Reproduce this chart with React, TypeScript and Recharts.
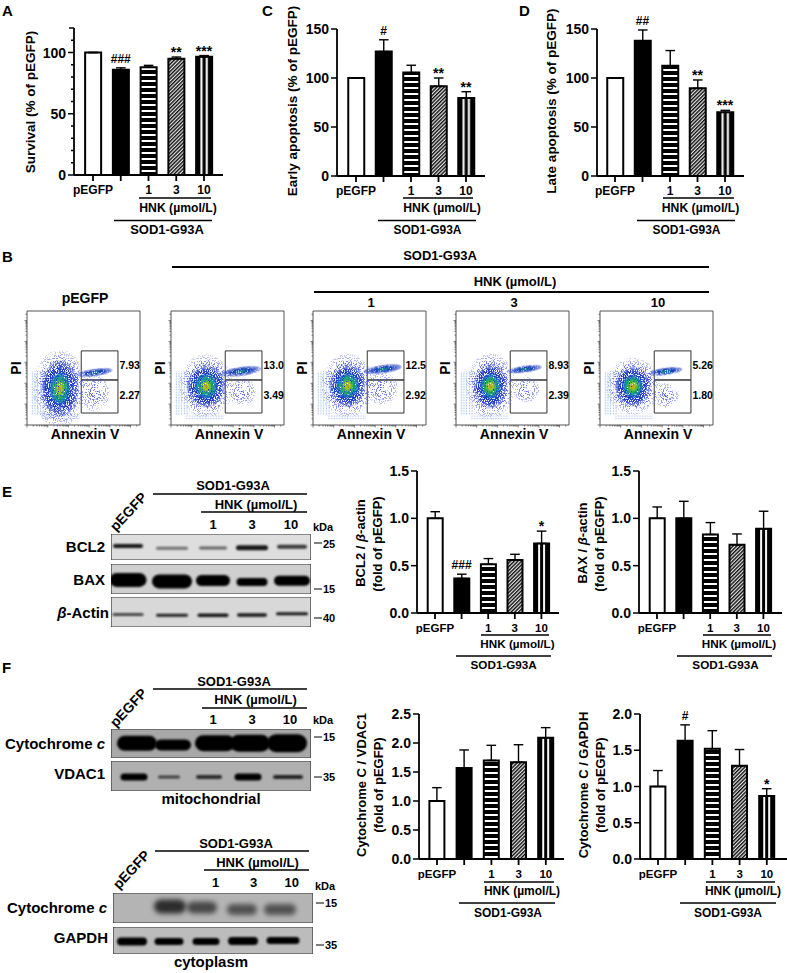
import React from 'react';
import {
  ComposedChart, Bar, Line, Cell, XAxis, YAxis, ErrorBar, LabelList,
  ScatterChart, Scatter, ReferenceArea,
} from 'recharts';

const FONT = '"Liberation Sans", Arial, sans-serif';

// bar panels
const doseLabels = ['pEGFP', '', '1', '3', '10'];
const barFills = ['#fff', '#000', 'url(#hstripe)', 'url(#hatch)', 'url(#vstripe)'];

const survival = [100, 86, 88, 95, 96.5];
const survivalErr = [0, 1.5, 1.5, 1.3, 1];
const survivalSig = ['', '###', '', '**', '***'];

const early = [100, 127, 105.5, 91.5, 79.5];
const earlyErr = [0, 12, 7.5, 8.5, 6.5];
const earlySig = ['', '#', '', '**', '**'];

const late = [100, 138, 112.5, 89.5, 65];
const lateErr = [0, 11, 15.5, 8.5, 2];
const lateSig = ['', '##', '', '**', '***'];

const bcl2 = [1, 0.365, 0.515, 0.56, 0.735];
const bcl2Err = [0.07, 0.045, 0.06, 0.06, 0.13];
const bcl2Sig = ['', '###', '', '', '*'];

const bax = [1, 1, 0.83, 0.72, 0.89];
const baxErr = [0.12, 0.18, 0.125, 0.115, 0.185];
const noSig = ['', '', '', '', ''];

const cytoVdac = [1, 1.57, 1.7, 1.67, 2.09];
const cytoVdacErr = [0.23, 0.31, 0.26, 0.3, 0.175];

const cytoGapdh = [1, 1.63, 1.52, 1.285, 0.87];
const cytoGapdhErr = [0.22, 0.22, 0.25, 0.225, 0.1];
const cytoGapdhSig = ['', '#', '', '', '*'];

const ticks150 = [0, 50, 100, 150];
const ticks120 = [0, 10, 20, 30, 40, 50, 60, 70, 80, 90, 100, 110, 120];
const ticks15 = [0, 0.5, 1, 1.5];
const ticks25 = [0, 0.5, 1, 1.5, 2, 2.5];
const ticks20 = [0, 0.5, 1, 1.5, 2];

// flow plots, % of the plot frame
const flowLateVals = ['7.93', '13.0', '12.5', '8.93', '5.26'];
const flowEarlyVals = ['2.27', '3.49', '2.92', '2.39', '1.80'];
const flowTitles = ['pEGFP', '', '1', '3', '10'];
const coreX = [29, 31, 30.5, 30.5, 29];
const coreY = [32, 34, 34.5, 34, 34];
const coreRx = [10, 11, 11, 10, 10];
const coreRy = [16, 12, 12, 12, 11];
const midRx = [17, 17, 16, 15, 16];
const midRy = [25, 19, 19, 20, 18];
const haloRx = [24, 24, 24, 22, 24];
const haloRy = [34, 28, 28, 29, 25];
const streakX = [60, 62, 62, 61, 58];
const streakY = [46, 47, 49, 49, 47];
const streakRx = [16, 18, 17, 15, 15];
const streakRy = [3.4, 4.2, 3.8, 3.2, 3.4];
const lowX = [60, 63, 61, 62, 59];
const lowY = [28, 29, 32, 31, 26];
const lowRx = [13, 12, 14, 12, 11];
const lowRy = [16, 12, 14, 11, 11];
const flowMajor = [0, 18.3, 36.6, 55, 73.3, 91.6];
const flowMinor = [5.5, 8.8, 11, 12.8, 14.2, 15.5, 16.5, 17.4, 23.8, 27.1, 29.3, 31.1, 32.5, 33.8, 34.8, 35.7, 42.1, 45.4, 47.6, 49.4, 50.8, 52.1, 53.1, 54, 60.5, 63.8, 66, 67.8, 69.2, 70.5, 71.5, 72.4, 78.8, 82.1, 84.3, 86.1, 87.5, 88.8, 89.8, 90.7, 97.1];

// blot bands: offset along the membrane, height on the membrane, darkness
const bcl2X = [17, 61, 102, 141, 181];
const bcl2Y = [54, 45, 46, 47, 51];
const bcl2Dark = [0.9, 0.5, 0.55, 0.9, 0.75];
const bcl2W = [30, 32, 28, 32, 30];
const bcl2T = [4, 3, 3, 5, 4];

const baxX = [17, 61, 102, 141, 181];
const baxY = [47, 42, 45, 40, 44];
const baxDark = [1, 1, 1, 1, 1];
const baxW = [37, 40, 34, 31, 36];
const baxT = [14, 14, 11, 8, 10];

const actinX = [17, 61, 102, 141, 181];
const actinY = [42, 39, 39, 40, 44];
const actinDark = [0.8, 0.85, 0.9, 0.9, 0.9];
const actinW = [31, 32, 31, 30, 32];
const actinT = [2.5, 3, 3.5, 3.5, 3];

const mitoX = [26, 62, 104, 139, 176];
const mitoY = [51, 45, 51, 51, 51];
const mitoDark = [1, 1, 1, 1, 1];
const mitoW = [40, 36, 40, 40, 40];
const mitoT = [15, 11, 16, 17, 18];

const vdacX = [23, 58, 98, 137, 177];
const vdacY = [47, 47, 47, 47, 47];
const vdacDark = [1, 0.65, 0.75, 1, 0.8];
const vdacW = [27, 22, 26, 27, 30];
const vdacT = [7, 3, 4, 7, 4];

const plasmX = [57, 89, 129, 167];
const plasmY = [55, 52, 45, 45];
const plasmDark = [0.75, 0.6, 0.55, 0.55];
const plasmW = [32, 30, 30, 32];
const plasmT = [14, 12, 11, 11];

const gapdhX = [19, 56, 93, 130, 170];
const gapdhY = [46, 46, 46, 48, 50];
const gapdhDark = [1, 1, 1, 1, 1];
const gapdhW = [30, 29, 27, 30, 33];
const gapdhT = [8, 7, 7, 8, 7];

function SigLabel(props: any) {
  const { value } = props;
  if (!value) return null;
  const box = props.viewBox ?? props;
  const x = props.x ?? box.x;
  const y = props.y ?? box.y;
  const isHash = value[0] === '#';
  return (
    <text x={x} y={y - (isHash ? 5 : 0)} textAnchor="middle" fontFamily={FONT}
      fontSize={isHash ? 12 : 14} fontWeight={700} fill="#000">
      {value}
    </text>
  );
}

function BarPanel({ axisX, xEnd, top, bottom, firstC, step, max, ticks, majors, values, errs, sigs, digits, barSize, fontSize }: any) {
  const data = doseLabels.map((label, i) => ({
    label,
    value: values[i],
    err: [0, errs[i]],
    top: values[i] + errs[i],
    sig: sigs[i],
  }));
  const yW = 60;
  const mt = 22;
  const padL = firstC - step / 2 - axisX;
  const padR = xEnd - (firstC + step * 4.5);
  const plotH = bottom - top;
  return (
    <div style={{ position: 'absolute', left: axisX - yW, top: top - mt }}>
      <ComposedChart width={yW + xEnd - axisX} height={mt + plotH + 32} data={data}
        margin={{ top: mt, right: 0, bottom: 0, left: 0 }}>
        <XAxis dataKey="label" interval={0} height={32} padding={{ left: padL, right: padR }}
          axisLine={{ stroke: '#000', strokeWidth: 1.8 }}
          tickLine={{ stroke: '#000', strokeWidth: 1.8 }} tickSize={6} tickMargin={4.5}
          tick={{ fill: '#000', fontSize, fontWeight: 700, fontFamily: FONT }} />
        <YAxis type="number" domain={[0, max]} ticks={ticks} width={yW} interval={0}
          axisLine={{ stroke: '#000', strokeWidth: 1.8 }} tickLine={false} tickSize={0} tickMargin={0}
          tick={(p: any) => {
            const v = p.payload.value;
            const major = majors.includes(v);
            const len = major ? 6 : v === 120 ? 5 : 3;
            return (
              <g>
                <line x1={p.x} x2={p.x - len} y1={p.y} y2={p.y} stroke="#000" strokeWidth={1.5} />
                {major && (
                  <text x={p.x - 8} y={p.y} dy="0.36em" textAnchor="end" fontFamily={FONT} fontSize={14} fontWeight={700} fill="#000">
                    {v.toFixed(digits)}
                  </text>
                )}
              </g>
            );
          }} />
        <Bar dataKey="value" barSize={barSize} stroke="#000" strokeWidth={2} isAnimationActive={false}>
          {data.map((d, i) => <Cell key={d.label + i} fill={barFills[i]} />)}
          <ErrorBar dataKey="err" direction="y" width={4.8} stroke="#000" strokeWidth={1.4} isAnimationActive={false} />
        </Bar>
        <Line dataKey="top" stroke="none" dot={false} activeDot={false} legendType="none" isAnimationActive={false}>
          <LabelList dataKey="sig" content={SigLabel} />
        </Line>
      </ComposedChart>
    </div>
  );
}

function FlowPanel({ idx, left }: { idx: number; left: number }) {
  const frameTop = 311;
  const w = 113;
  const h = 114;
  const pad = 6;
  const one = (x: number, y: number, rx: number, ry: number) => [{ x, y, rx, ry }];
  const shapeOf = (fill: string, filter: string, tilt = 0) => (p: any) => {
    const rx = (p.payload.rx * w) / 100;
    const ry = (p.payload.ry * h) / 100;
    return (
      <ellipse cx={p.cx} cy={p.cy} rx={rx} ry={ry} fill={fill} filter={filter}
        transform={tilt ? `rotate(${tilt} ${p.cx} ${p.cy})` : undefined} />
    );
  };
  const rectShape = (fill: string) => (p: any) => {
    const rx = (p.payload.rx * w) / 100;
    const ry = (p.payload.ry * h) / 100;
    return <rect x={p.cx - rx} y={p.cy - ry} width={rx * 2} height={ry * 2} fill={fill} />;
  };
  const axisTick = (horizontal: boolean) => (p: any) => {
    const len = flowMajor.includes(p.payload.value) ? 2.5 : 1.5;
    return horizontal
      ? <line x1={p.x} x2={p.x} y1={p.y} y2={p.y + len} stroke="#444" strokeWidth={0.7} />
      : <line x1={p.x} x2={p.x - len} y1={p.y} y2={p.y} stroke="#444" strokeWidth={0.7} />;
  };
  const allTicks = [...flowMajor, ...flowMinor];
  return (
    <div style={{ position: 'absolute', left: left - pad, top: frameTop - 2 }}>
      <ScatterChart width={w + pad + 2} height={h + pad + 2} margin={{ top: 2, right: 2, bottom: 0, left: 0 }}>
        <XAxis type="number" dataKey="x" domain={[0, 100]} ticks={allTicks} interval={0} height={pad}
          axisLine={false} tickLine={false} tickSize={0} tickMargin={0} tick={axisTick(true)} />
        <YAxis type="number" dataKey="y" domain={[0, 100]} ticks={allTicks} interval={0} width={pad}
          axisLine={false} tickLine={false} tickSize={0} tickMargin={0} tick={axisTick(false)} />
        <Scatter data={one(9, 28, 6, 19)} shape={rectShape('url(#dotcols)')} isAnimationActive={false} />
        <Scatter data={one(30, 7, 17, 3)} shape={rectShape('url(#dotrows)')} isAnimationActive={false} />
        <Scatter data={one(coreX[idx], coreY[idx], haloRx[idx], haloRy[idx])} shape={shapeOf('url(#halo)', 'url(#sparse)')} isAnimationActive={false} />
        <Scatter data={one(coreX[idx], coreY[idx], midRx[idx], midRy[idx])} shape={shapeOf('url(#mid)', 'url(#speckle)')} isAnimationActive={false} />
        <Scatter data={one(coreX[idx], coreY[idx], coreRx[idx], coreRy[idx])} shape={shapeOf('url(#core)', 'url(#grain)')} isAnimationActive={false} />
        <Scatter data={one(lowX[idx], lowY[idx], lowRx[idx], lowRy[idx])} shape={shapeOf('url(#low)', 'url(#sparse)')} isAnimationActive={false} />
        <Scatter data={one(streakX[idx], streakY[idx], streakRx[idx], streakRy[idx])} shape={shapeOf('url(#streak)', 'url(#grain)', -8)} isAnimationActive={false} />
        <ReferenceArea x1={48} x2={80.5} y1={39.5} y2={65} fill="none" stroke="#333" strokeWidth={1} />
        <ReferenceArea x1={48} x2={80.5} y1={10.5} y2={39.5} fill="none" stroke="#333" strokeWidth={1} />
        <ReferenceArea x1={0} x2={100} y1={0} y2={100} fill="none" stroke="#555" strokeWidth={1} />
      </ScatterChart>
    </div>
  );
}

function Blot({ left, top, width, height, bg, xs, ys, darks, ws, ts, blur }: any) {
  const data = xs.map((x: number, i: number) => ({ x, y: ys[i], dark: darks[i], w: ws[i], t: ts[i] }));
  return (
    <div style={{ position: 'absolute', left, top }}>
      <ScatterChart width={width} height={height} margin={{ top: 0, right: 0, bottom: 0, left: 0 }}>
        <XAxis type="number" dataKey="x" domain={[0, width]} hide />
        <YAxis type="number" dataKey="y" domain={[0, 100]} hide />
        <ReferenceArea x1={0} x2={width} y1={0} y2={100} fill={bg} fillOpacity={1} stroke="#333" strokeWidth={1.2} />
        <Scatter data={data} isAnimationActive={false}
          shape={(p: any) => (
            <rect x={p.cx - p.payload.w / 2} y={p.cy - p.payload.t / 2} width={p.payload.w} height={p.payload.t}
              rx={p.payload.t / 2} fill="#050505" opacity={p.payload.dark} filter={`url(#${blur})`} />
          )} />
      </ScatterChart>
    </div>
  );
}

function T({ x, y, size = 12, anchor = 'middle', rot, weight = 700, children }: any) {
  return (
    <text x={x} y={y} fontSize={size} textAnchor={anchor} fontWeight={weight} fontFamily={FONT} fill="#000"
      transform={rot != null ? `rotate(${rot} ${x} ${y})` : undefined}>
      {children}
    </text>
  );
}

function Rule({ x1, x2, y, w = 1.5 }: any) {
  return <line x1={x1} x2={x2} y1={y} y2={y} stroke="#000" strokeWidth={w} />;
}

// the two bracket rows under a bar panel
function Brackets({ hx1, hx2, hy, htx, hby, sx1, sx2, sy, stx, sby, size = 12.2, sodSize = 12 }: any) {
  return (
    <g>
      <Rule x1={hx1} x2={hx2} y={hy} />
      <T x={htx} y={hby} size={size}>HNK (µmol/L)</T>
      <Rule x1={sx1} x2={sx2} y={sy} />
      <T x={stx} y={sby} size={sodSize}>SOD1-G93A</T>
    </g>
  );
}

// header of a blot: pEGFP, brackets, lane doses, kDa
function BlotHead({ px, py, sodX, sodY, sodLineY, sx1, sx2, hnkX, hnkY, hnkLineY, hx1, laneY, lanes, kdaY }: any) {
  return (
    <g>
      <T x={px} y={py} size={14} anchor="start" rot={-47}>pEGFP</T>
      <T x={sodX} y={sodY} size={13}>SOD1-G93A</T>
      <Rule x1={sx1} x2={sx2} y={sodLineY} />
      <T x={hnkX} y={hnkY} size={13}>HNK (µmol/L)</T>
      <Rule x1={hx1} x2={sx2} y={hnkLineY} />
      {['1', '3', '10'].map((d, i) => <T key={d} x={lanes[i]} y={laneY} size={13}>{d}</T>)}
      <T x={sx2 + 6} y={kdaY} size={11} anchor="start">kDa</T>
    </g>
  );
}

function Marker({ x, y, by, label }: any) {
  return (
    <g>
      <line x1={x} x2={x + 8} y1={y} y2={y} stroke="#000" strokeWidth={1} />
      <T x={x + 9} y={by} size={11} anchor="start">{label}</T>
    </g>
  );
}

const flowLefts = [27, 171, 313, 456, 600];

export default function App() {
  return (
    <div style={{ position: 'absolute', left: 0, top: 0, width: 787, height: 973, background: '#fff', overflow: 'hidden', fontFamily: FONT }}>
      <svg width={0} height={0} style={{ position: 'absolute' }}>
        <defs>
          <pattern id="hstripe" patternUnits="userSpaceOnUse" width={6} height={6}>
            <rect width={6} height={6} fill="#000" />
            <rect y={2} width={6} height={2} fill="#fff" />
          </pattern>
          <pattern id="hatch" patternUnits="userSpaceOnUse" width={2.6} height={2.6} patternTransform="rotate(45)">
            <rect width={2.6} height={2.6} fill="#e4e4e4" />
            <rect width={1.4} height={2.6} fill="#111" />
          </pattern>
          <pattern id="vstripe" patternUnits="objectBoundingBox" patternContentUnits="objectBoundingBox" width={1} height={1}>
            <rect width={1} height={1} fill="#000" />
            <rect x={0.27} width={0.13} height={1} fill="#fff" />
            <rect x={0.6} width={0.13} height={1} fill="#fff" />
          </pattern>
          <pattern id="dotcols" patternUnits="userSpaceOnUse" width={2.7} height={1.6}>
            <rect width={0.9} height={0.9} fill="#6a9ae0" opacity={0.7} />
          </pattern>
          <pattern id="dotrows" patternUnits="userSpaceOnUse" width={1.6} height={2.6}>
            <rect width={0.9} height={0.9} fill="#8aa4e8" opacity={0.7} />
          </pattern>
          <radialGradient id="halo">
            <stop offset="0" stopColor="#3048d8" stopOpacity={0.95} />
            <stop offset="0.7" stopColor="#4858e0" stopOpacity={0.85} />
            <stop offset="1" stopColor="#7080e8" stopOpacity={0.3} />
          </radialGradient>
          <radialGradient id="mid">
            <stop offset="0" stopColor="#1030c0" />
            <stop offset="0.75" stopColor="#1838c8" stopOpacity={0.95} />
            <stop offset="1" stopColor="#3048d8" stopOpacity={0.3} />
          </radialGradient>
          <radialGradient id="core">
            <stop offset="0" stopColor="#d88a20" />
            <stop offset="0.2" stopColor="#a8c820" />
            <stop offset="0.48" stopColor="#20b060" />
            <stop offset="0.78" stopColor="#1080b8" stopOpacity={0.8} />
            <stop offset="1" stopColor="#2040c8" stopOpacity={0} />
          </radialGradient>
          <radialGradient id="low">
            <stop offset="0" stopColor="#2840d0" stopOpacity={0.95} />
            <stop offset="1" stopColor="#5060e0" stopOpacity={0.35} />
          </radialGradient>
          <radialGradient id="streak">
            <stop offset="0" stopColor="#109878" />
            <stop offset="0.45" stopColor="#1038c0" />
            <stop offset="1" stopColor="#2040c8" stopOpacity={0.4} />
          </radialGradient>
          <filter id="speckle" x="-10%" y="-10%" width="120%" height="120%">
            <feTurbulence type="fractalNoise" baseFrequency="0.95" numOctaves="2" seed="4" result="noise" />
            <feColorMatrix in="noise" type="matrix" values="0 0 0 0 0  0 0 0 0 0  0 0 0 0 0  0 0 0 12 -5.2" result="mask" />
            <feComposite in="SourceGraphic" in2="mask" operator="in" />
          </filter>
          <filter id="sparse" x="-10%" y="-10%" width="120%" height="120%">
            <feTurbulence type="fractalNoise" baseFrequency="1.05" numOctaves="2" seed="9" result="noise" />
            <feColorMatrix in="noise" type="matrix" values="0 0 0 0 0  0 0 0 0 0  0 0 0 0 0  0 0 0 14 -7.6" result="mask" />
            <feComposite in="SourceGraphic" in2="mask" operator="in" />
          </filter>
          <filter id="grain" x="-20%" y="-60%" width="140%" height="220%">
            <feTurbulence type="fractalNoise" baseFrequency="0.9" numOctaves="2" seed="2" result="noise" />
            <feColorMatrix in="noise" type="matrix" values="0 0 0 0 0  0 0 0 0 0  0 0 0 0 0  0 0 0 6 -1.7" result="mask" />
            <feComposite in="SourceGraphic" in2="mask" operator="in" />
          </filter>
          <filter id="blurS" x="-20%" y="-60%" width="140%" height="220%"><feGaussianBlur stdDeviation="0.8" /></filter>
          <filter id="blurL" x="-30%" y="-80%" width="160%" height="260%"><feGaussianBlur stdDeviation="2.4" /></filter>
        </defs>
      </svg>

      <BarPanel axisX={74} xEnd={223} top={28} bottom={175} firstC={93} step={27.75} max={120} ticks={ticks120} majors={[0, 50, 100]}
        values={survival} errs={survivalErr} sigs={survivalSig} digits={0} barSize={16} fontSize={12} />
      <BarPanel axisX={337} xEnd={485} top={29} bottom={176} firstC={356} step={27.5} max={150} ticks={ticks150} majors={ticks150}
        values={early} errs={earlyErr} sigs={earlySig} digits={0} barSize={16} fontSize={12} />
      <BarPanel axisX={597} xEnd={744} top={29} bottom={176} firstC={615} step={27.5} max={150} ticks={ticks150} majors={ticks150}
        values={late} errs={lateErr} sigs={lateSig} digits={0} barSize={16} fontSize={12} />
      <BarPanel axisX={417} xEnd={559} top={471} bottom={613} firstC={435} step={26.6} max={1.5} ticks={ticks15} majors={ticks15}
        values={bcl2} errs={bcl2Err} sigs={bcl2Sig} digits={1} barSize={15} fontSize={11.5} />
      <BarPanel axisX={639} xEnd={782} top={471} bottom={613} firstC={657} step={26.6} max={1.5} ticks={ticks15} majors={ticks15}
        values={bax} errs={baxErr} sigs={noSig} digits={1} barSize={15} fontSize={11.5} />
      <BarPanel axisX={419} xEnd={564} top={714} bottom={859} firstC={437} step={27.2} max={2.5} ticks={ticks25} majors={ticks25}
        values={cytoVdac} errs={cytoVdacErr} sigs={noSig} digits={1} barSize={15} fontSize={11.5} />
      <BarPanel axisX={640} xEnd={787} top={714} bottom={859} firstC={658} step={27.2} max={2} ticks={ticks20} majors={ticks20}
        values={cytoGapdh} errs={cytoGapdhErr} sigs={cytoGapdhSig} digits={1} barSize={15} fontSize={11.5} />

      {flowLefts.map((left, i) => <FlowPanel key={left} idx={i} left={left} />)}

      <Blot left={111} top={534} width={200} height={26} bg="#dedede" xs={bcl2X} ys={bcl2Y} darks={bcl2Dark} ws={bcl2W} ts={bcl2T} blur="blurS" />
      <Blot left={111} top={564} width={200} height={30} bg="#cfcfcf" xs={baxX} ys={baxY} darks={baxDark} ws={baxW} ts={baxT} blur="blurS" />
      <Blot left={111} top={597} width={200} height={30} bg="#d8d8d8" xs={actinX} ys={actinY} darks={actinDark} ws={actinW} ts={actinT} blur="blurS" />
      <Blot left={111} top={729} width={200} height={29} bg="#a8a8a8" xs={mitoX} ys={mitoY} darks={mitoDark} ws={mitoW} ts={mitoT} blur="blurS" />
      <Blot left={111} top={761} width={200} height={30} bg="#b0b0b0" xs={vdacX} ys={vdacY} darks={vdacDark} ws={vdacW} ts={vdacT} blur="blurS" />
      <Blot left={113} top={893} width={200} height={30} bg="#b4b4b4" xs={plasmX} ys={plasmY} darks={plasmDark} ws={plasmW} ts={plasmT} blur="blurL" />
      <Blot left={113} top={927} width={200} height={27} bg="#bcbcbc" xs={gapdhX} ys={gapdhY} darks={gapdhDark} ws={gapdhW} ts={gapdhT} blur="blurS" />

      <svg width={787} height={973} style={{ position: 'absolute', left: 0, top: 0, pointerEvents: 'none' }}>
        {/* panel letters */}
        <T x={2} y={16} size={15} anchor="start">A</T>
        <T x={262} y={16} size={15} anchor="start">C</T>
        <T x={519} y={16} size={15} anchor="start">D</T>
        <T x={2} y={262} size={15} anchor="start">B</T>
        <T x={2} y={497} size={15} anchor="start">E</T>
        <T x={2} y={673} size={15} anchor="start">F</T>

        {/* axis titles */}
        <T x={35} y={102} size={13.5} rot={-90}>Survival (% of pEGFP)</T>
        <T x={297} y={101} size={13.5} rot={-90}>Early apoptosis (% of pEGFP)</T>
        <T x={556} y={101} size={13.5} rot={-90}>Late apoptosis (% of pEGFP)</T>
        <T x={365} y={543} size={13} rot={-90}>BCL2 / <tspan fontStyle="italic">β</tspan>-actin</T>
        <T x={382} y={544} size={13} rot={-90}>(fold of pEGFP)</T>
        <T x={587} y={543} size={13} rot={-90}>BAX / <tspan fontStyle="italic">β</tspan>-actin</T>
        <T x={604} y={544} size={13} rot={-90}>(fold of pEGFP)</T>
        <T x={366} y={785} size={13} rot={-90}>Cytochrome C / VDAC1</T>
        <T x={383} y={785} size={13} rot={-90}>(fold of pEGFP)</T>
        <T x={588} y={785} size={13} rot={-90}>Cytochrome C / GAPDH</T>
        <T x={605} y={785} size={13} rot={-90}>(fold of pEGFP)</T>

        {/* brackets under the bars */}
        <Brackets hx1={139} hx2={211} hy={198} htx={178} hby={212} sx1={114} sx2={212} sy={220.5} stx={167} sby={234} sodSize={13} />
        <Brackets hx1={403} hx2={473} hy={198} htx={442} hby={212} sx1={378} sx2={476} sy={220.5} stx={427.5} sby={234} />
        <Brackets hx1={663} hx2={734} hy={198} htx={700.5} hby={212} sx1={637} sx2={735} sy={220.5} stx={686.5} sby={234} />
        <Brackets hx1={481} hx2={549} hy={635} htx={517.5} hby={648} sx1={456} sx2={551} sy={656} stx={503.7} sby={669} size={11.7} sodSize={11.7} />
        <Brackets hx1={703} hx2={771} hy={635} htx={739} hby={648} sx1={677} sx2={772} sy={656} stx={725.5} sby={669} size={11.7} sodSize={11.7} />
        <Brackets hx1={484} hx2={554} hy={882} htx={522} hby={895} sx1={459} sx2={555} sy={903} stx={508} sby={917} size={12} />
        <Brackets hx1={706} hx2={775} hy={882} htx={743} hby={895} sx1={680} sx2={776} sy={903} stx={728} sby={917} size={12} />

        {/* flow panel headers */}
        <T x={440} y={260} size={13}>SOD1-G93A</T>
        <Rule x1={172} x2={709} y={267} w={2} />
        <T x={515} y={286} size={13}>HNK (µmol/L)</T>
        <Rule x1={314} x2={709} y={292} w={2} />
        {flowLefts.map((left, i) => (
          <g key={left}>
            <T x={left + 58} y={i === 0 ? 303 : 307} size={i === 0 ? 14 : 13}>{flowTitles[i]}</T>
            <T x={left - 6} y={368} size={14} rot={-90}>PI</T>
            <T x={left + 58} y={439} size={14}>Annexin V</T>
            <T x={left + 92.5} y={369} size={10.5} anchor="start">{flowLateVals[i]}</T>
            <T x={left + 92.5} y={399} size={10.5} anchor="start">{flowEarlyVals[i]}</T>
          </g>
        ))}

        {/* blot E */}
        <BlotHead px={116} py={532} sodX={233} sodY={490} sodLineY={494} sx1={153} sx2={307} hnkX={256} hnkY={509} hnkLineY={512} hx1={201} laneY={529} lanes={[213, 252, 291]} kdaY={531} />
        <T x={105} y={552} size={15} anchor="end">BCL2</T>
        <T x={105} y={585} size={15} anchor="end">BAX</T>
        <T x={109} y={618} size={15} anchor="end"><tspan fontStyle="italic">β</tspan>-Actin</T>
        <Marker x={314} y={543} by={548} label="25" />
        <Marker x={314} y={589} by={593} label="15" />
        <Marker x={314} y={618} by={622} label="40" />

        {/* blot F, mitochondrial */}
        <BlotHead px={116} py={728} sodX={234} sodY={686} sodLineY={689} sx1={153} sx2={307} hnkX={255.5} hnkY={704} hnkLineY={708} hx1={202} laneY={724} lanes={[213, 252, 290]} kdaY={724} />
        <T x={105} y={749} size={15} anchor="end">Cytochrome <tspan fontStyle="italic">c</tspan></T>
        <T x={105} y={779} size={15} anchor="end">VDAC1</T>
        <Marker x={314} y={737} by={741} label="15" />
        <Marker x={314} y={777} by={781} label="35" />
        <T x={211} y={804} size={15}>mitochondrial</T>

        {/* blot F, cytoplasm */}
        <BlotHead px={119} py={890} sodX={236} sodY={848} sodLineY={851} sx1={155} sx2={309} hnkX={257.5} hnkY={867} hnkLineY={870} hx1={204} laneY={887} lanes={[215.7, 253.7, 291.7]} kdaY={890} />
        <T x={107} y={913} size={15} anchor="end">Cytochrome <tspan fontStyle="italic">c</tspan></T>
        <T x={108} y={943} size={15} anchor="end">GAPDH</T>
        <Marker x={316} y={903} by={907} label="15" />
        <Marker x={316} y={945} by={949} label="35" />
        <T x={211} y={967} size={15}>cytoplasm</T>
      </svg>
    </div>
  );
}
